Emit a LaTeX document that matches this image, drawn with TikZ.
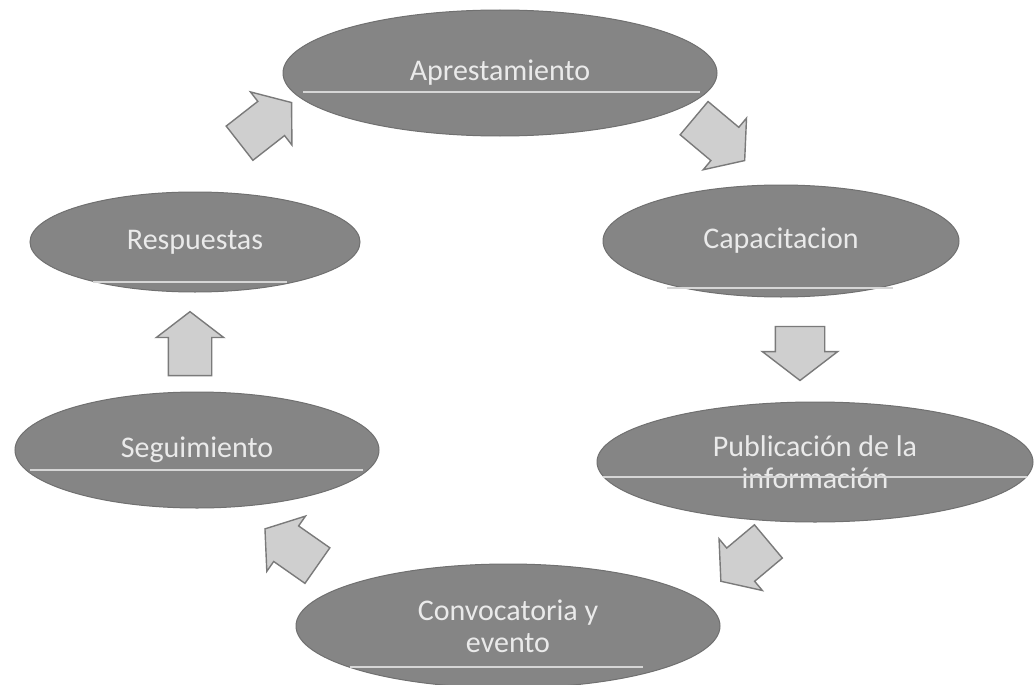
\documentclass[tikz,border=0pt]{standalone}
\usepackage{fontspec}
\setmainfont{Carlito}
\usetikzlibrary{shapes.geometric,shapes.arrows,calc}
\definecolor{ellfill}{HTML}{858585}
\definecolor{elldraw}{HTML}{707070}
\definecolor{elltext}{HTML}{EAEAEA}
\definecolor{stripe}{HTML}{D6D6D6}
\definecolor{arrfill}{HTML}{CFCFCF}
\definecolor{arrdraw}{HTML}{7A7A7A}
\tikzset{
  stage/.style={ellipse, inner sep=0pt, fill=ellfill, draw=elldraw, line width=1pt,
    text=elltext, align=center, font=\fontsize{30}{32}\selectfont},
  stripeline/.style={draw=stripe, line width=2.2pt},
  blockarrow/.style={single arrow, draw=arrdraw, fill=arrfill, line width=1.4pt,
    inner xsep=0pt, inner ysep=21pt, minimum height=66pt,
    single arrow head extend=12pt, single arrow tip angle=105}
}
\begin{document}
\begin{tikzpicture}[x=1pt,y=-1pt]
\fill[white] (0,0) rectangle (1036,685);
\useasboundingbox (0,0) rectangle (1036,685);

\node[stage, minimum width=434pt, minimum height=126pt] (ap) at (500,73) {Aprestamiento};
\node[stage, minimum width=356pt, minimum height=112pt] (ca) at (781,241) {Capacitacion};
\node[stage, minimum width=436pt, minimum height=120pt] (pu) at (815,462) {Publicación de la\\información};
\node[stage, minimum width=424pt, minimum height=124pt] (co) at (508,626) {Convocatoria y\\evento};
\node[stage, minimum width=364pt, minimum height=116pt] (se) at (197,450) {Seguimiento};
\node[stage, minimum width=330pt, minimum height=100pt] (re) at (195,242) {Respuestas};

\draw[stripeline] ($(ap.center)+(-197,19)$) -- ($(ap.center)+(200,19)$);
\draw[stripeline] ($(ca.center)+(-114,47)$) -- ($(ca.center)+(112,47)$);
\draw[stripeline] ($(pu.center)+(-212,15)$) -- ($(pu.center)+(212,15)$);
\draw[stripeline] ($(co.center)+(-158,41)$) -- ($(co.center)+(135,41)$);
\draw[stripeline] ($(se.center)+(-167,20)$) -- ($(se.center)+(166,20)$);
\draw[stripeline] ($(re.center)+(-102,40)$) -- ($(re.center)+(92,40)$);

\node[blockarrow, rotate=38] (a1) at (259,128) {};
\node[blockarrow, rotate=-40] (a2) at (713,134) {};
\node[blockarrow, rotate=-90, minimum height=54pt, inner ysep=24pt, single arrow head extend=13pt] (a3) at (800,344) {};
\node[blockarrow, rotate=-140, minimum height=62pt] (a4) at (751,556) {};
\node[blockarrow, rotate=145, minimum height=64pt] (a5) at (298,552) {};
\node[blockarrow, rotate=90, minimum height=64pt] (a6) at (190,352) {};
\end{tikzpicture}
\end{document}
